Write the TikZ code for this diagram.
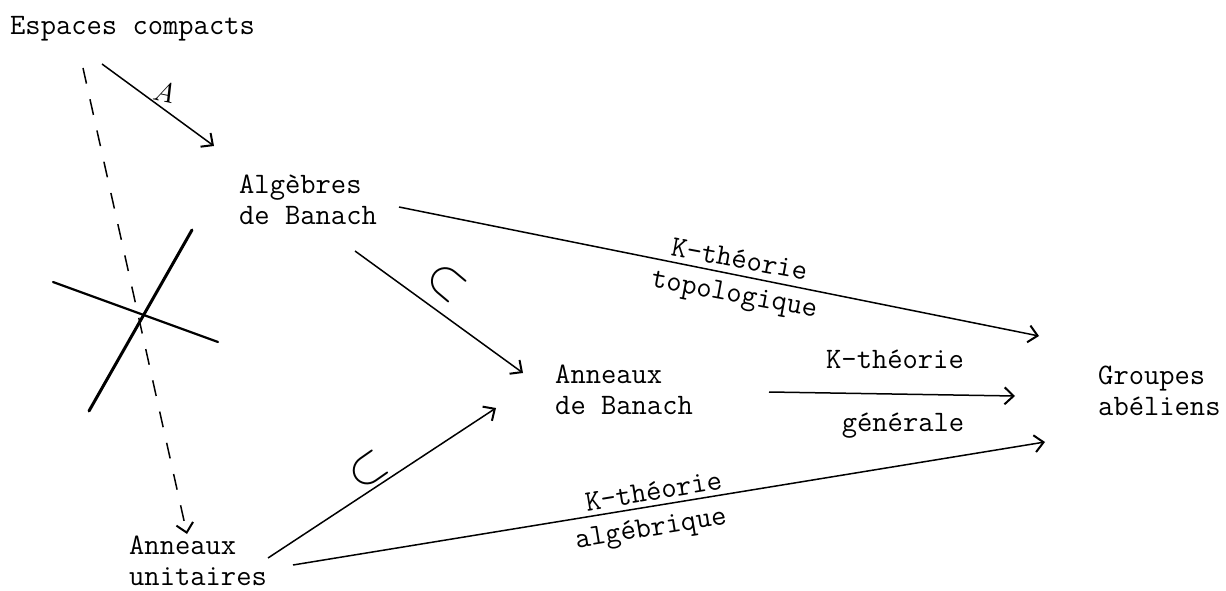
\documentclass[tikz,border=0pt]{standalone}
\usepackage{fontspec}
\usetikzlibrary{arrows.meta}
\begin{document}
\begin{tikzpicture}[x=1bp,y=-1bp,
  tw/.style={font=\ttfamily\fontsize{29.7bp}{30.5bp}\selectfont, inner sep=0pt},
  obj/.style={tw, align=left, anchor=west},
  lab/.style={tw, anchor=base},
  tip/.tip={Straight Barb[length=9bp,width=17bp,line width=2bp]},
  arr/.style={line width=1.5bp, -tip},
  dasharr/.style={arr, dash pattern=on 16bp off 16bp},
  cross/.style={line cap=round},
  hook/.style={inner sep=0pt}]
\useasboundingbox (0,0) rectangle (1226,591);

% objects
\node[tw, anchor=base west] (esp) at (10,35) {Espaces compacts};
\node[obj] (alg)  at (239,200) {Algèbres\\de Banach};
\node[obj] (annb) at (555,390) {Anneaux\\de Banach};
\node[obj] (annu) at (129,561) {Anneaux\\unitaires};
\node[obj] (grp)  at (1098,391) {Groupes\\abéliens};

% end points of the arrows
\coordinate (a1) at (102,64);   \coordinate (a2) at (214,146);
\coordinate (d1) at (83,68);    \coordinate (d2) at (187,534);
\coordinate (t1) at (399,207);  \coordinate (t2) at (1039,336);
\coordinate (i1) at (355,251);  \coordinate (i2) at (523,373);
\coordinate (j1) at (268,558);  \coordinate (j2) at (496,408);
\coordinate (g1) at (769,392);  \coordinate (g2) at (1015,396);
\coordinate (k1) at (293,565);  \coordinate (k2) at (1045,442);

% arrows
\draw[arr] (a1) -- (a2);
\draw[dasharr] (d1) -- (d2);
\draw[arr] (t1) -- (t2);
\draw[arr] (i1) -- (i2);
\draw[arr] (j1) -- (j2);
\draw[arr] (g1) -- (g2);
\draw[arr] (k1) -- (k2);

% the cross striking out the dashed arrow
\coordinate (c1) at (53,282);  \coordinate (c2) at (218,342);
\coordinate (c3) at (192,230); \coordinate (c4) at (89,411);
\draw[cross, line width=2.2bp] (c1) -- (c2);
\draw[cross, line width=3bp] (c3) -- (c4);

% arrow labels
\node[inner sep=0pt, rotate=-12] (lA) at (164,92) {\scalebox{2.8}{$A$}};
\node[hook, rotate=-40] (h1) at (446,282) {\scalebox{5}{$\subset$}};
\node[hook, rotate=35]  (h2) at (368,470) {\scalebox{5}{$\subset$}};

\node[lab, rotate=-10.5] (kt1) at (738,268) {K-théorie};
\node[lab, rotate=-10.5] (kt2) at (733,302) {topologique};
\node[lab] (kg1) at (895,368) {K-théorie};
\node[lab] (kg2) at (903,431) {générale};
\node[lab, rotate=9.3] (ka1) at (655,500) {K-théorie};
\node[lab, rotate=9.3] (ka2) at (652,536) {algébrique};
\end{tikzpicture}
\end{document}
